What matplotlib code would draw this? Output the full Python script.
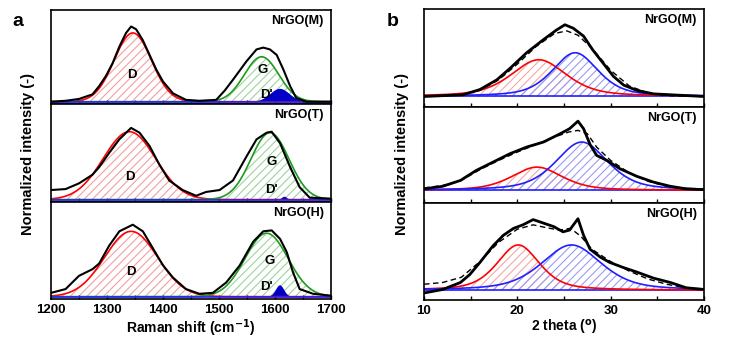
import numpy as np
import matplotlib.pyplot as plt

plt.rcParams['font.family'] = ['Liberation Sans', 'DejaVu Sans']
plt.rcParams['font.weight'] = 'bold'
plt.rcParams['hatch.linewidth'] = 0.8

samples = ['NrGO(M)', 'NrGO(T)', 'NrGO(H)']

# Raman spectra, normalised to the axis height
raman_x = [
    [1200, 1226, 1250, 1274, 1286, 1298, 1310, 1322, 1334, 1343, 1352, 1364, 1376, 1388, 1400, 1418,
     1441, 1465, 1495, 1510, 1525, 1537, 1549, 1567, 1579, 1591, 1603, 1615, 1627, 1638, 1656, 1700],
    [1200, 1226, 1250, 1274, 1286, 1304, 1322, 1343, 1358, 1376, 1394, 1411, 1435, 1459, 1477, 1501,
     1525, 1549, 1567, 1585, 1594, 1609, 1627, 1644, 1662, 1700],
    [1200, 1226, 1250, 1274, 1286, 1304, 1322, 1346, 1364, 1382, 1400, 1418, 1441, 1465, 1489, 1513,
     1537, 1561, 1579, 1594, 1609, 1621, 1632, 1644, 1668, 1700],
]
raman_y = [
    [0.00, 0.01, 0.03, 0.08, 0.17, 0.28, 0.42, 0.60, 0.75, 0.82, 0.79, 0.67, 0.51, 0.35, 0.22, 0.09,
     0.02, 0.01, 0.02, 0.12, 0.24, 0.34, 0.44, 0.57, 0.59, 0.57, 0.51, 0.35, 0.17, 0.04, 0.00, 0.00],
    [0.10, 0.11, 0.17, 0.26, 0.34, 0.49, 0.63, 0.75, 0.70, 0.56, 0.36, 0.20, 0.10, 0.04, 0.08, 0.10,
     0.20, 0.45, 0.63, 0.70, 0.71, 0.59, 0.34, 0.13, 0.02, 0.01],
    [0.04, 0.08, 0.22, 0.29, 0.35, 0.54, 0.69, 0.76, 0.69, 0.51, 0.33, 0.20, 0.08, 0.03, 0.04, 0.15,
     0.33, 0.58, 0.69, 0.70, 0.61, 0.47, 0.26, 0.08, 0.03, 0.01],
]
# fitted Raman bands: centre, FWHM, height
band_D = [(1346, 78, 0.75), (1340, 110, 0.71), (1343, 111, 0.69)]
band_G = [(1576, 72, 0.49), (1591, 80, 0.70), (1585, 90, 0.67)]
band_D2 = [(1609, 40, 0.14), (1617, 10, 0.03), (1609, 17, 0.12)]
label_pos = [  # (D), (G), (D')
    [(1345, 0.29), (1578, 0.35), (1585, 0.07)],
    [(1340, 0.24), (1594, 0.39), (1594, 0.10)],
    [(1343, 0.26), (1591, 0.38), (1585, 0.10)],
]

# XRD patterns
xrd_x = [
    [10, 14.2, 16, 17.8, 19.2, 21, 22.8, 24.2, 25.1, 26, 27.1, 28.1, 29.2, 30.3, 31.4, 32.8, 34.6, 40],
    [10, 12, 13.9, 15.6, 17.4, 19.2, 21, 22.8, 24.6, 25.6, 26.5, 27.1, 27.8, 28.5, 29.6, 31, 32.8,
     34.6, 36.4, 38.1, 40],
    [10, 12, 13.9, 14.9, 16, 17.4, 18.5, 19.6, 20.6, 21.7, 22.8, 23.9, 24.9, 25.6, 26.5, 27.1, 27.8,
     28.9, 29.9, 31.4, 32.8, 34.6, 36.4, 38.1, 40],
]
xrd_y = [
    [0.00, 0.02, 0.08, 0.19, 0.32, 0.50, 0.65, 0.76, 0.82, 0.78, 0.69, 0.53, 0.38, 0.23, 0.13, 0.07, 0.03, 0.00],
    [0.02, 0.05, 0.12, 0.24, 0.34, 0.44, 0.52, 0.58, 0.68, 0.74, 0.83, 0.74, 0.55, 0.42, 0.36, 0.26, 0.17,
     0.10, 0.05, 0.02, 0.01],
    [-0.03, 0.01, 0.09, 0.18, 0.32, 0.51, 0.63, 0.71, 0.75, 0.81, 0.77, 0.73, 0.67, 0.69, 0.82, 0.63, 0.47,
     0.38, 0.32, 0.26, 0.21, 0.14, 0.09, 0.03, 0.01],
]
fit_x = [
    [10, 14, 16, 18, 20, 22, 24, 25.3, 26.5, 28, 30, 32, 34, 36, 40],
    [10, 12, 14, 16, 18, 20, 22, 24, 25.5, 26.5, 27.5, 28.5, 30, 32, 34, 36, 38, 40],
    [10, 12, 14, 15, 16, 18, 20, 21.7, 23, 24.5, 25.7, 26.8, 28, 30, 32, 34, 36, 38, 40],
]
fit_y = [
    [0.00, 0.02, 0.07, 0.19, 0.37, 0.57, 0.72, 0.75, 0.70, 0.55, 0.30, 0.12, 0.04, 0.01, 0.00],
    [0.03, 0.06, 0.12, 0.25, 0.36, 0.46, 0.55, 0.64, 0.70, 0.72, 0.68, 0.52, 0.36, 0.21, 0.11, 0.05, 0.02, 0.01],
    [0.07, 0.09, 0.15, 0.24, 0.33, 0.55, 0.70, 0.75, 0.72, 0.69, 0.71, 0.62, 0.47, 0.33, 0.22, 0.13, 0.07,
     0.03, 0.01],
]
# XRD components: centre, FWHM, height
peak_red = [(22.3, 7.0, 0.42), (22.1, 6.4, 0.28), (20.1, 5.4, 0.52)]
peak_blue = [(26.2, 5.8, 0.50), (26.9, 6.6, 0.58), (25.8, 7.6, 0.52)]
xrd_ymin = [-0.12, -0.15, -0.11]


def gauss(x, c, w, h):
    return h * np.exp(-4 * np.log(2) * (x - c) ** 2 / w ** 2)


def pvoigt(x, c, w, h, eta=0.5):
    lor = 1 / (1 + 4 * (x - c) ** 2 / w ** 2)
    return h * (eta * lor + (1 - eta) * np.exp(-4 * np.log(2) * (x - c) ** 2 / w ** 2))


fig = plt.figure(figsize=(7.31, 3.5), dpi=100)

left_y = [0.9714, 0.7029, 0.4229, 0.1457]
right_y = [0.9743, 0.6943, 0.4200, 0.1429]

xr = np.linspace(1180, 1720, 600)
xx = np.linspace(9, 41, 600)

for i in range(3):
    # ---- Raman ----
    ax = fig.add_axes([0.0698, left_y[i + 1], 0.383, left_y[i] - left_y[i + 1]])
    d = gauss(xr, *band_D[i])
    g = gauss(xr, *band_G[i])
    d2 = gauss(xr, *band_D2[i])
    ax.fill_between(xr, 0, d, facecolor='none', edgecolor='#f2a0a0', hatch='////', linewidth=0)
    ax.fill_between(xr, 0, g, facecolor='none', edgecolor='#9fd49f', hatch='////', linewidth=0)
    ax.fill_between(xr, 0, d2, facecolor='#0000c8', edgecolor='none')
    ax.plot(xr, d, color='red', lw=1.2)
    ax.plot(xr, g, color='#1f9a1f', lw=1.2)
    ax.axhline(0, color='#2020ff', lw=1.2)
    ax.plot(raman_x[i], raman_y[i], color='black', lw=1.5)
    for txt, (px, py) in zip(['D', 'G', "D'"], label_pos[i]):
        ax.text(px, py, txt, fontsize=9.5, fontweight='bold', ha='center', va='center')
    ax.text(0.975, 0.95, samples[i], transform=ax.transAxes, fontsize=9,
            fontweight='bold', ha='right', va='top')
    ax.set_xlim(1200, 1700)
    ax.set_ylim(-0.025, 1.0)
    ax.set_yticks([])
    ax.set_xticks([1200, 1300, 1400, 1500, 1600, 1700])
    ax.set_xticks(np.arange(1250, 1700, 100), minor=True)
    ax.tick_params(axis='x', which='both', direction='in', length=3, width=1, labelsize=9.5)
    for s in ax.spines.values():
        s.set_linewidth(1.2)
    if i < 2:
        ax.set_xticklabels([])
    else:
        ax.set_xlabel('Raman shift (cm$^{\\mathbf{-1}}$)', fontsize=10, fontweight='bold', labelpad=1)

    # ---- XRD ----
    bx = fig.add_axes([0.580, right_y[i + 1], 0.383, right_y[i] - right_y[i + 1]])
    r = pvoigt(xx, *peak_red[i])
    b = pvoigt(xx, *peak_blue[i])
    bx.fill_between(xx, 0, r, facecolor='none', edgecolor='#f4a8a8', hatch='////', linewidth=0)
    bx.fill_between(xx, 0, b, facecolor='none', edgecolor='#9c9cf0', hatch='////', linewidth=0)
    bx.axhline(0, color='#2020ff', lw=1.2)
    bx.plot(xx, r, color='red', lw=1.2)
    bx.plot(xx, b, color='#2020ff', lw=1.2)
    bx.plot(xrd_x[i], xrd_y[i], color='black', lw=2.0)
    bx.plot(fit_x[i], fit_y[i], color='black', lw=1.0, ls=(0, (4, 2.5)))
    bx.text(0.975, 0.95, samples[i], transform=bx.transAxes, fontsize=9,
            fontweight='bold', ha='right', va='top')
    bx.set_xlim(10, 40)
    bx.set_ylim(xrd_ymin[i], 1.0)
    bx.set_yticks([])
    bx.set_xticks([10, 20, 30, 40])
    bx.set_xticks([15, 25, 35], minor=True)
    bx.tick_params(axis='x', which='both', direction='in', length=3, width=1, labelsize=9.5)
    for s in bx.spines.values():
        s.set_linewidth(1.2)
    if i < 2:
        bx.set_xticklabels([])
    else:
        bx.set_xlabel('2 theta ($^{\\mathbf{o}}$)', fontsize=10, fontweight='bold', labelpad=1)

fig.text(0.038, 0.56, 'Normalized intensity (-)', rotation=90, fontsize=10.5,
         fontweight='bold', ha='center', va='center')
fig.text(0.55, 0.56, 'Normalized intensity (-)', rotation=90, fontsize=10.5,
         fontweight='bold', ha='center', va='center')
fig.text(0.025, 0.94, 'a', fontsize=14, fontweight='bold', ha='center', va='center')
fig.text(0.537, 0.94, 'b', fontsize=14, fontweight='bold', ha='center', va='center')

plt.savefig('out.png', dpi=100)
